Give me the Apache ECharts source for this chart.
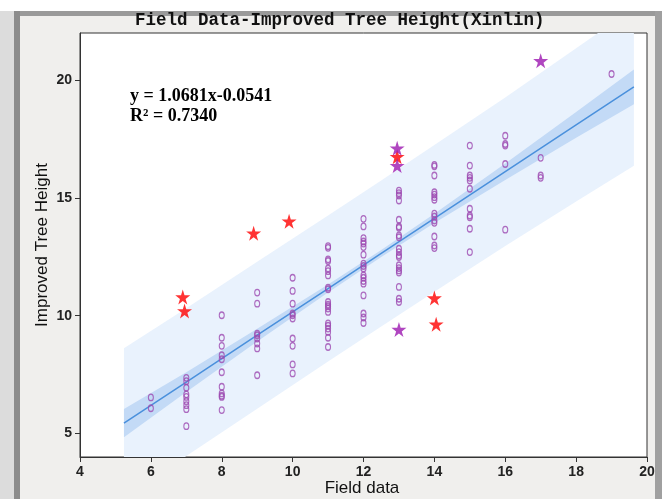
<!DOCTYPE html>
<html>
<head>
<meta charset="utf-8">
<script src="https://cdn.jsdelivr.net/npm/echarts@6/dist/echarts.min.js"></script>
<style>
html,body{margin:0;padding:0;background:#f0efed;}
#c{width:662px;height:499px;}
</style>
</head>
<body>
<div id="c"></div>
<script>
// ---- data ----
var fieldX = [
  6,6,
  7,7,7,7,7,7,7,7,7,
  8,8,8,8,8,8,8,8,8,8,8,
  9,9,9,9,9,9,9,9,
  10,10,10,10,10,10,10,10,10,10,
  11,11,11,11,11,11,11,11,11,11,11,11,11,11,11,11,11,11,11,11,
  12,12,12,12,12,12,12,12,12,12,12,12,12,12,12,12,12,12,
  13,13,13,13,13,13,13,13,13,13,13,13,13,13,13,13,13,13,13,13,
  14,14,14,14,14,14,14,14,14,14,14,14,14,14,
  15,15,15,15,15,15,15,15,15,15,15,
  16,16,16,16,16,
  17,17,17,
  19
];
var treeHeight = [
  6.53,6.07,
  7.36,7.22,6.94,6.66,6.55,6.37,6.20,6.03,5.31,
  10.02,9.06,8.72,8.32,8.15,7.60,6.98,6.70,6.60,6.55,5.99,
  10.98,10.51,9.24,9.17,9.03,8.82,8.61,7.47,
  11.61,11.05,10.51,10.09,10.02,9.88,9.03,8.72,7.93,7.55,
  12.95,12.88,12.39,12.32,12.00,11.89,11.71,11.19,11.12,10.58,10.47,10.40,10.30,10.16,9.67,9.57,9.45,9.31,9.06,8.67,
  14.11,13.79,13.29,13.15,13.06,12.91,12.59,12.21,12.11,12.00,11.71,11.61,11.47,11.36,10.86,10.09,9.92,9.69,
  15.31,15.20,15.10,14.89,14.07,13.79,13.73,13.41,13.33,12.84,12.70,12.56,12.49,12.14,12.02,11.92,11.83,11.22,10.72,10.58,
  16.40,16.34,15.95,15.24,15.14,15.03,14.92,14.33,14.21,14.04,13.94,13.36,12.98,12.87,
  17.22,16.37,15.95,15.85,15.74,15.39,14.54,14.25,14.18,13.69,12.70,
  17.64,17.29,17.22,16.44,13.65,
  16.70,15.95,15.85,
  20.26
];
var redStarX = [6.9, 6.95, 8.9, 9.9, 12.95, 14.0, 14.05];
var redStarY = [10.79, 10.20, 13.50, 14.01, 16.75, 10.75, 9.64];
var purpleStarX = [12.95, 12.95, 13.0, 17.0];
var purpleStarY = [17.11, 16.37, 9.41, 20.82];

// fitted line and bands (as drawn)
var bandX     = [5.24, 7, 9, 11, 12.5, 14, 16, 18, 19.63];
var fitY      = [5.44, 7.18, 9.17, 11.15, 12.64, 14.13, 16.11, 18.10, 19.71];
var ciLower   = [4.84, 6.76, 8.90, 10.98, 12.49, 13.93, 15.76, 17.55, 18.97];
var ciUpper   = [6.04, 7.60, 9.44, 11.32, 12.79, 14.33, 16.46, 18.65, 20.45];
var piLower   = [2.26, 4.04, 6.05, 8.05, 9.54, 11.02, 12.96, 14.85, 16.36];
var piUpper   = [8.62, 10.32, 12.29, 14.25, 15.74, 17.24, 19.26, 21.35, 23.06];

var xTicks = [4, 6, 8, 10, 12, 14, 16, 18, 20];
var yTicks = [5, 10, 15, 20];

var titleText = 'Field Data-Improved Tree Height(Xinlin)';
var xName = 'Field data';
var yName = 'Improved Tree Height';
var eqText = 'y = 1.0681x-0.0541';
var r2Text = 'R\u00B2 = 0.7340';

// ---- build ----
function zip(a, b) { return a.map(function (v, i) { return [v, b[i]]; }); }

function bandSeries(lower, upper, color, z) {
  return {
    type: 'custom', clip: true, silent: true, z: z,
    data: [0],
    renderItem: function (params, api) {
      var pts = [];
      for (var i = 0; i < bandX.length; i++) pts.push(api.coord([bandX[i], upper[i]]));
      for (var j = bandX.length - 1; j >= 0; j--) pts.push(api.coord([bandX[j], lower[j]]));
      return {type: 'polygon', shape: {points: pts}, style: {fill: color, stroke: null}};
    }
  };
}

var star = 'path://M50,0 L61,35 L98,35 L68,57 L79,91 L50,70 L21,91 L32,57 L2,35 L39,35 Z';

var chart = echarts.init(document.getElementById('c'), null, {renderer: 'canvas'});
chart.setOption({
  animation: false,
  backgroundColor: '#f0efed',
  graphic: [
    {type: 'rect', shape: {x: 0, y: 0, width: 662, height: 11}, style: {fill: '#ffffff'}, z: -10},
    {type: 'rect', shape: {x: 14, y: 11, width: 641, height: 5}, style: {fill: '#9a9a9a'}, z: -9},
    {type: 'rect', shape: {x: 0, y: 11, width: 14, height: 488}, style: {fill: '#dcdcdc'}, z: -9},
    {type: 'rect', shape: {x: 14, y: 11, width: 6, height: 488}, style: {fill: '#8c8c8c'}, z: -9},
    {type: 'rect', shape: {x: 655, y: 11, width: 7, height: 488}, style: {fill: '#a0a0a0'}, z: -9},
    {type: 'text', left: 135, top: 12, style: {text: titleText, font: 'bold 17.5px "Liberation Mono"', fill: '#111'}},
    {type: 'text', left: 130, top: 87, style: {text: eqText, font: 'bold 18px "Liberation Serif"', fill: '#000'}, z: 20},
    {type: 'text', left: 130, top: 107, style: {text: r2Text, font: 'bold 18px "Liberation Serif"', fill: '#000'}, z: 20},
    {type: 'text', x: 362, y: 488, style: {text: xName, font: '17px "Liberation Sans"', fill: '#111', align: 'center', verticalAlign: 'middle'}},
    {type: 'text', x: 42, y: 245, rotation: Math.PI / 2, style: {text: yName, font: '17px "Liberation Sans"', fill: '#111', align: 'center', verticalAlign: 'middle'}}
  ],
  grid: {left: 80, top: 33, right: 15, bottom: 42,
         show: true, backgroundColor: '#ffffff', borderColor: '#333333', borderWidth: 1},
  xAxis: {
    type: 'value', min: 4, max: 20, interval: 2,
    axisLine: {onZero: false, lineStyle: {color: '#333'}},
    axisTick: {show: true, length: 5, lineStyle: {color: '#333'}},
    axisLabel: {fontFamily: 'Liberation Sans', fontWeight: 'bold', fontSize: 14, color: '#222', margin: 8},
    splitLine: {show: false}
  },
  yAxis: {
    type: 'value', min: 4, max: 22,
    axisLine: {show: true, onZero: false, lineStyle: {color: '#333'}},
    axisTick: {show: true, length: 5, customValues: yTicks, lineStyle: {color: '#333'}},
    axisLabel: {fontFamily: 'Liberation Sans', fontWeight: 'bold', fontSize: 14, color: '#222', margin: 8, customValues: yTicks},
    splitLine: {show: false}
  },
  series: [
    bandSeries(piLower, piUpper, '#e9f2fd', 1),
    bandSeries(ciLower, ciUpper, '#c3daf6', 2),
    {type: 'line', data: zip(bandX, fitY), symbol: 'none', lineStyle: {color: '#4a90dc', width: 1.5}, silent: true, z: 3},
    {type: 'scatter', data: zip(fieldX, treeHeight), symbol: 'circle', symbolSize: [5, 6.5],
     itemStyle: {color: 'rgba(255,255,255,0)', borderColor: '#9c48b0', borderWidth: 1.2}, z: 4},
    {type: 'scatter', data: zip(redStarX, redStarY), symbol: star, symbolSize: 15,
     itemStyle: {color: '#ff0000'}, z: 5},
    {type: 'scatter', data: zip(purpleStarX, purpleStarY), symbol: star, symbolSize: 15,
     itemStyle: {color: '#9c18b0'}, z: 6}
  ]
});
</script>
</body>
</html>
